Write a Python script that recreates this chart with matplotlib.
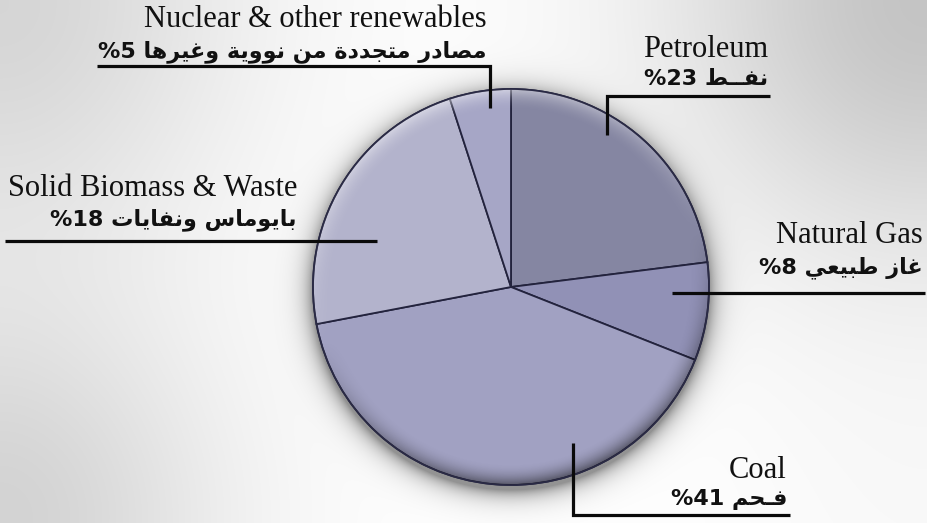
import numpy as np
import matplotlib
matplotlib.use("Agg")
import matplotlib.pyplot as plt
from matplotlib.patches import Circle

# slices, clockwise from 12 o'clock
sources_en = ["Petroleum", "Natural Gas", "Coal", "Solid Biomass & Waste",
              "Nuclear & other renewables"]
sources_ar = ["نفــط", "غاز طبيعي", "فـحم", "بايوماس ونفايات",
              "مصادر متجددة من نووية وغيرها"]
label_pct = [23, 8, 41, 18, 5]          # percent printed in the labels
wedge_share = [23, 8, 41, 23, 5]        # slice sizes as drawn in the picture
colors = ["#8586a2", "#9191b6", "#a1a1c2", "#b3b3cc", "#a6a6c6"]

W, H = 927, 523
cx, cy, R = 511, 287, 198

# label layout: (text right edge, english baseline, arabic baseline, leader polyline)
layout = [
    (768, 57, 85, [(607, 135), (607, 96), (770, 96)]),
    (923, 243, 273, [(672, 293), (925, 293)]),
    (787, 478, 505, [(573, 443), (573, 515), (790, 515)]),
    (297, 196, 225, [(377, 241), (5, 241)]),
    (487, 27, 57, [(490, 108), (490, 66), (97, 66)]),
]

# minimal arabic shaping (presentation forms + visual order)
FORMS = {
    'ا': (0xFE8D, 0xFE8E, None, None), 'ب': (0xFE8F, 0xFE90, 0xFE91, 0xFE92),
    'ة': (0xFE93, 0xFE94, None, None), 'ت': (0xFE95, 0xFE96, 0xFE97, 0xFE98),
    'ج': (0xFE9D, 0xFE9E, 0xFE9F, 0xFEA0), 'ح': (0xFEA1, 0xFEA2, 0xFEA3, 0xFEA4),
    'د': (0xFEA9, 0xFEAA, None, None), 'ر': (0xFEAD, 0xFEAE, None, None),
    'ز': (0xFEAF, 0xFEB0, None, None), 'س': (0xFEB1, 0xFEB2, 0xFEB3, 0xFEB4),
    'ص': (0xFEB9, 0xFEBA, 0xFEBB, 0xFEBC), 'ط': (0xFEC1, 0xFEC2, 0xFEC3, 0xFEC4),
    'ع': (0xFEC9, 0xFECA, 0xFECB, 0xFECC), 'غ': (0xFECD, 0xFECE, 0xFECF, 0xFED0),
    'ف': (0xFED1, 0xFED2, 0xFED3, 0xFED4), 'م': (0xFEE1, 0xFEE2, 0xFEE3, 0xFEE4),
    'ن': (0xFEE5, 0xFEE6, 0xFEE7, 0xFEE8), 'ه': (0xFEE9, 0xFEEA, 0xFEEB, 0xFEEC),
    'و': (0xFEED, 0xFEEE, None, None), 'ي': (0xFEF1, 0xFEF2, 0xFEF3, 0xFEF4),
    'ـ': (0x640, 0x640, 0x640, 0x640),
}


def shape(text):
    out = []
    for i, ch in enumerate(text):
        if ch not in FORMS:
            out.append(ch)
            continue
        prev = text[i - 1] if i > 0 else None
        nxt = text[i + 1] if i + 1 < len(text) else None
        jp = prev in FORMS and FORMS[prev][2] is not None
        jn = FORMS[ch][2] is not None and nxt in FORMS
        iso, fin, ini, med = FORMS[ch]
        f = med if (jp and jn) else fin if jp else ini if jn else iso
        out.append(chr(f))
    return "".join(reversed(out))


fig = plt.figure(figsize=(W / 100, H / 100), dpi=100)
ax = fig.add_axes([0, 0, 1, 1])

# background vignette + pie drop shadow
yy, xx = np.mgrid[0:H, 0:W] + 0.5
g = np.ones((H, W))
for (px, py), depth, sig in [((0, 0), 0.16, 250), ((W, 0), 0.23, 260),
                             ((0, H), 0.17, 230), ((W, H), 0.02, 200)]:
    g -= depth * np.exp(-((xx - px) ** 2 + (yy - py) ** 2) / sig ** 2)
d = np.hypot(xx - cx, yy - (cy + 5)) - R
sh = np.where(d > 0, 0.42 * np.exp(-d / 10.0), 0.42)
g = g * (1 - sh)
bg = np.dstack([g, g, g])
ax.imshow(bg, extent=(0, W, H, 0), zorder=0, interpolation="bilinear")

wedges, _ = ax.pie(wedge_share, colors=colors, center=(cx, cy), radius=R,
                   startangle=-90, counterclock=True,
                   wedgeprops=dict(edgecolor="#23233d", linewidth=1.3))
for w in wedges:
    w.set_zorder(2)

# bevel on the rim
rho = np.hypot(xx - cx, yy - cy)
t = np.clip((R - rho) / 22.0, 0, 1)
s = (1 - t) ** 2
ny = (yy - cy) / np.maximum(rho, 1)
nx = (xx - cx) / np.maximum(rho, 1)
light = -(0.85 * ny + 0.25 * nx)
ov = np.zeros((H, W, 4))
pos = light > 0
ov[..., :3] = np.where(pos[..., None], 1.0, 0.05)
ov[..., 3] = np.clip(s * np.abs(light) * np.where(pos, 0.55, 0.6), 0, 1)
img = ax.imshow(ov, extent=(0, W, H, 0), zorder=3, interpolation="bilinear")
img.set_clip_path(Circle((cx, cy), R, transform=ax.transData))
ax.add_patch(Circle((cx, cy), R, fill=False, edgecolor="#2a2a45",
                    linewidth=1.2, zorder=4))

for en, ar, p, (xr, yb_en, yb_ar, pts) in zip(sources_en, sources_ar,
                                             label_pct, layout):
    ax.text(xr, yb_en, en, ha="right", va="baseline", fontsize=22,
            family="Liberation Serif", color="#111111", zorder=5)
    ax.text(xr, yb_ar, f"%{p} " + shape(ar), ha="right", va="baseline",
            fontsize=16, fontweight="bold", family=["DejaVu Sans"],
            color="#111111", zorder=5)
    xs, ys = zip(*pts)
    ax.plot(xs, ys, color="#0a0a0a", linewidth=2.3, zorder=5,
            solid_joinstyle="miter", solid_capstyle="butt")

ax.set_xlim(0, W)
ax.set_ylim(H, 0)
ax.axis("off")
fig.savefig("out.png", dpi=100)
